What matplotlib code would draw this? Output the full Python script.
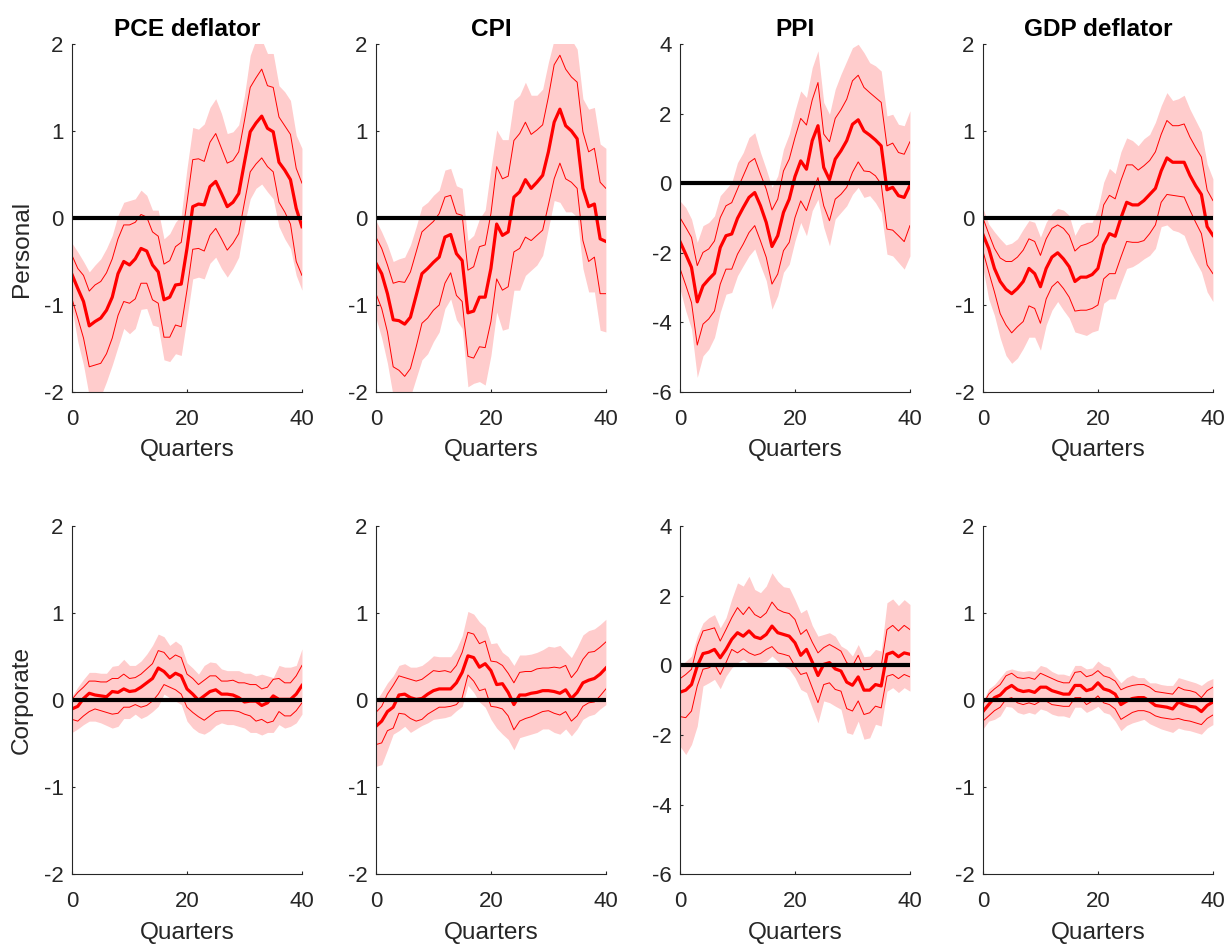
import numpy as np
import matplotlib
matplotlib.use("Agg")
import matplotlib.pyplot as plt

plt.rcParams['font.family'] = ['Liberation Sans', 'DejaVu Sans']
plt.rcParams['axes.unicode_minus'] = False

quarters = np.arange(41)
titles = ['PCE deflator', 'CPI', 'PPI', 'GDP deflator']
rows = ['Personal', 'Corporate']

# --- personal income tax shock ---
pce_p_med = [-0.65, -0.81, -0.96, -1.24, -1.19, -1.15, -1.06, -0.91, -0.64, -0.50,
             -0.54, -0.47, -0.35, -0.38, -0.54, -0.62, -0.94, -0.91, -0.77, -0.76,
             -0.35, 0.13, 0.16, 0.15, 0.36, 0.42, 0.28, 0.13, 0.18, 0.28,
             0.64, 0.99, 1.09, 1.17, 1.03, 0.99, 0.64, 0.55, 0.44, 0.11, -0.10]
pce_p_hi68 = [-0.43, -0.58, -0.66, -0.84, -0.77, -0.73, -0.63, -0.47, -0.24, -0.08,
              -0.08, -0.05, 0.04, 0.01, -0.16, -0.21, -0.53, -0.49, -0.33, -0.28,
              0.18, 0.67, 0.68, 0.65, 0.87, 0.97, 0.80, 0.63, 0.66, 0.76,
              1.12, 1.50, 1.61, 1.71, 1.52, 1.50, 1.16, 1.06, 0.96, 0.57, 0.40]
pce_p_lo68 = [-0.93, -1.15, -1.38, -1.71, -1.69, -1.67, -1.56, -1.38, -1.12, -0.96,
              -0.98, -0.93, -0.75, -0.75, -0.94, -0.98, -1.37, -1.37, -1.23, -1.25,
              -0.83, -0.36, -0.35, -0.38, -0.20, -0.12, -0.24, -0.37, -0.29, -0.18,
              0.18, 0.53, 0.62, 0.69, 0.59, 0.53, 0.18, 0.07, -0.07, -0.50, -0.66]
pce_p_hi90 = [-0.29, -0.39, -0.50, -0.62, -0.54, -0.47, -0.35, -0.20, 0.03, 0.18,
              0.20, 0.22, 0.32, 0.26, 0.09, 0.09, -0.24, -0.18, -0.05, 0.03,
              0.57, 1.04, 1.02, 1.08, 1.27, 1.37, 1.20, 0.97, 0.99, 1.07,
              1.41, 1.87, 2.05, 2.05, 1.89, 1.89, 1.52, 1.45, 1.35, 0.95, 0.80]
pce_p_lo90 = [-1.04, -1.42, -1.69, -2.05, -2.10, -2.05, -1.88, -1.69, -1.48, -1.27,
              -1.33, -1.27, -1.05, -1.04, -1.23, -1.25, -1.63, -1.65, -1.56, -1.58,
              -1.15, -0.70, -0.68, -0.70, -0.52, -0.45, -0.58, -0.68, -0.58, -0.45,
              -0.07, 0.22, 0.34, 0.39, 0.30, 0.22, -0.10, -0.24, -0.35, -0.66, -0.83]

cpi_p_med = [-0.52, -0.64, -0.87, -1.17, -1.18, -1.22, -1.14, -0.89, -0.64, -0.58,
             -0.51, -0.45, -0.22, -0.19, -0.41, -0.49, -1.09, -1.07, -0.91, -0.91,
             -0.58, -0.07, -0.20, -0.16, 0.24, 0.30, 0.44, 0.34, 0.41, 0.49,
             0.76, 1.10, 1.25, 1.06, 1.00, 0.91, 0.34, 0.13, 0.16, -0.24, -0.27]
cpi_p_hi68 = [-0.22, -0.35, -0.54, -0.75, -0.73, -0.74, -0.62, -0.39, -0.16, -0.10,
              -0.04, 0.05, 0.24, 0.26, 0.05, 0.03, -0.60, -0.56, -0.33, -0.31,
              0.05, 0.59, 0.45, 0.48, 0.89, 0.97, 1.10, 0.96, 1.01, 1.07,
              1.39, 1.76, 1.87, 1.71, 1.62, 1.56, 0.99, 0.76, 0.80, 0.41, 0.34]
cpi_p_lo68 = [-0.87, -1.04, -1.31, -1.71, -1.75, -1.82, -1.73, -1.48, -1.21, -1.15,
              -1.06, -1.00, -0.75, -0.63, -0.89, -0.96, -1.59, -1.61, -1.48, -1.49,
              -1.19, -0.70, -0.83, -0.79, -0.39, -0.35, -0.22, -0.26, -0.20, -0.14,
              0.15, 0.45, 0.63, 0.45, 0.41, 0.34, -0.26, -0.50, -0.45, -0.87, -0.87]
cpi_p_hi90 = [-0.03, -0.16, -0.31, -0.50, -0.47, -0.45, -0.31, -0.10, 0.13, 0.18,
              0.26, 0.32, 0.55, 0.57, 0.37, 0.34, -0.26, -0.20, -0.01, 0.09,
              0.57, 1.01, 0.90, 0.90, 1.35, 1.41, 1.56, 1.41, 1.41, 1.48,
              1.79, 2.05, 2.10, 2.10, 2.05, 1.94, 1.37, 1.25, 1.27, 0.85, 0.80]
cpi_p_lo90 = [-1.15, -1.38, -1.67, -2.05, -2.10, -2.10, -2.05, -1.84, -1.63, -1.56,
              -1.42, -1.31, -1.04, -0.93, -1.17, -1.27, -1.94, -1.90, -1.88, -1.92,
              -1.58, -1.08, -1.29, -1.27, -0.83, -0.83, -0.66, -0.60, -0.54, -0.43,
              -0.12, 0.20, 0.18, 0.07, 0.07, 0.01, -0.58, -0.85, -0.85, -1.29, -1.31]

ppi_p_med = [-1.68, -2.04, -2.42, -3.41, -2.95, -2.76, -2.59, -1.85, -1.51, -1.46,
             -1.01, -0.70, -0.41, -0.27, -0.65, -1.13, -1.82, -1.51, -0.84, -0.46,
             0.19, 0.64, 0.40, 1.22, 1.65, 0.45, 0.10, 0.69, 0.93, 1.22,
             1.69, 1.82, 1.50, 1.38, 1.24, 1.07, -0.19, -0.12, -0.36, -0.41, -0.06]
ppi_p_hi68 = [-0.99, -1.27, -1.56, -2.37, -1.99, -1.89, -1.66, -0.99, -0.65, -0.56,
              -0.17, 0.21, 0.59, 0.71, 0.26, -0.17, -0.77, -0.46, 0.35, 0.69,
              1.31, 1.86, 1.67, 2.39, 2.89, 1.41, 1.19, 1.86, 2.11, 2.41,
              2.94, 3.10, 2.75, 2.60, 2.46, 2.32, 1.07, 1.15, 0.88, 0.83, 1.19]
ppi_p_lo68 = [-2.45, -2.93, -3.43, -4.65, -4.05, -3.90, -3.67, -2.90, -2.47, -2.47,
              -2.04, -1.75, -1.42, -1.22, -1.66, -2.13, -2.90, -2.61, -1.94, -1.70,
              -0.99, -0.51, -0.79, -0.27, 0.16, -0.65, -1.08, -0.46, -0.32, -0.12,
              0.31, 0.61, 0.35, 0.33, 0.21, -0.03, -1.32, -1.35, -1.51, -1.68, -1.22]
ppi_p_hi90 = [-0.51, -0.70, -1.03, -1.70, -1.22, -1.13, -0.94, -0.36, -0.17, 0.02,
              0.59, 0.88, 1.31, 1.45, 0.88, 0.40, -0.12, 0.21, 0.98, 1.41,
              2.08, 2.65, 2.46, 3.32, 3.80, 2.32, 1.98, 2.70, 3.13, 3.51,
              3.89, 3.99, 3.75, 3.46, 3.37, 3.22, 1.93, 1.98, 1.69, 1.65, 2.08]
ppi_p_lo90 = [-3.04, -3.67, -4.19, -5.58, -4.96, -4.77, -4.43, -3.71, -3.19, -3.14,
              -2.66, -2.37, -2.09, -1.89, -2.37, -2.80, -3.62, -3.23, -2.56, -2.33,
              -1.66, -1.13, -1.51, -0.79, -0.46, -1.27, -1.80, -1.03, -0.84, -0.65,
              -0.32, -0.12, -0.41, -0.36, -0.56, -0.84, -2.04, -2.09, -2.28, -2.47, -2.09]

gdp_p_med = [-0.19, -0.35, -0.58, -0.73, -0.82, -0.87, -0.81, -0.73, -0.58, -0.64,
             -0.79, -0.58, -0.45, -0.40, -0.47, -0.56, -0.73, -0.68, -0.68, -0.65,
             -0.58, -0.31, -0.18, -0.21, 0.00, 0.18, 0.15, 0.15, 0.20, 0.27,
             0.34, 0.54, 0.69, 0.64, 0.64, 0.64, 0.49, 0.37, 0.27, -0.10, -0.20]
gdp_p_hi68 = [0.00, -0.18, -0.35, -0.46, -0.50, -0.50, -0.45, -0.37, -0.24, -0.27,
              -0.43, -0.24, -0.12, -0.08, -0.12, -0.20, -0.38, -0.32, -0.30, -0.27,
              -0.20, 0.15, 0.26, 0.22, 0.43, 0.61, 0.61, 0.55, 0.60, 0.66,
              0.76, 0.96, 1.12, 1.06, 1.06, 1.08, 0.93, 0.81, 0.70, 0.32, 0.20]
gdp_p_lo68 = [-0.38, -0.62, -0.85, -1.10, -1.23, -1.32, -1.25, -1.19, -1.01, -1.04,
              -1.21, -0.93, -0.79, -0.73, -0.81, -0.91, -1.07, -1.06, -1.06, -1.04,
              -1.00, -0.70, -0.64, -0.64, -0.45, -0.27, -0.28, -0.28, -0.26, -0.18,
              -0.08, 0.18, 0.27, 0.26, 0.25, 0.24, 0.09, -0.05, -0.18, -0.54, -0.64]
gdp_p_hi90 = [0.11, -0.07, -0.16, -0.24, -0.31, -0.29, -0.24, -0.13, -0.03, -0.05,
              -0.22, -0.05, 0.05, 0.11, 0.09, 0.03, -0.20, -0.08, -0.05, -0.05,
              0.11, 0.41, 0.57, 0.51, 0.76, 0.92, 0.89, 0.83, 0.91, 0.96,
              1.10, 1.29, 1.44, 1.35, 1.37, 1.41, 1.25, 1.12, 0.99, 0.62, 0.45]
gdp_p_lo90 = [-0.58, -0.93, -1.12, -1.38, -1.58, -1.67, -1.61, -1.50, -1.37, -1.37,
              -1.52, -1.23, -1.06, -0.96, -1.06, -1.15, -1.31, -1.33, -1.35, -1.31,
              -1.29, -0.98, -0.93, -0.93, -0.75, -0.58, -0.56, -0.52, -0.47, -0.43,
              -0.35, -0.10, -0.08, -0.14, -0.16, -0.20, -0.37, -0.50, -0.62, -0.85, -0.96]

# --- corporate income tax shock ---
pce_c_med = [-0.10, -0.07, 0.02, 0.08, 0.06, 0.05, 0.04, 0.10, 0.09, 0.13,
             0.10, 0.11, 0.15, 0.20, 0.25, 0.37, 0.33, 0.26, 0.31, 0.28,
             0.13, 0.07, 0.00, 0.05, 0.10, 0.12, 0.07, 0.07, 0.06, 0.03,
             -0.02, -0.01, -0.01, -0.06, -0.03, 0.05, 0.01, 0.01, 0.01, 0.07, 0.17]
pce_c_hi68 = [0.01, 0.09, 0.15, 0.22, 0.22, 0.21, 0.21, 0.25, 0.25, 0.30,
              0.25, 0.26, 0.30, 0.36, 0.42, 0.57, 0.55, 0.47, 0.52, 0.49,
              0.30, 0.25, 0.18, 0.23, 0.28, 0.28, 0.22, 0.22, 0.23, 0.20,
              0.20, 0.18, 0.18, 0.13, 0.15, 0.24, 0.25, 0.20, 0.20, 0.28, 0.40]
pce_c_lo68 = [-0.22, -0.24, -0.18, -0.13, -0.10, -0.12, -0.14, -0.16, -0.15, -0.08,
              -0.08, -0.05, -0.08, -0.06, -0.01, 0.07, 0.18, 0.15, 0.12, 0.07,
              -0.08, -0.14, -0.19, -0.23, -0.18, -0.13, -0.12, -0.12, -0.12, -0.13,
              -0.16, -0.18, -0.24, -0.22, -0.26, -0.24, -0.13, -0.18, -0.18, -0.12, -0.03]
pce_c_hi90 = [0.05, 0.15, 0.24, 0.32, 0.32, 0.31, 0.31, 0.39, 0.40, 0.47,
              0.40, 0.40, 0.45, 0.53, 0.63, 0.76, 0.73, 0.63, 0.68, 0.63,
              0.43, 0.37, 0.30, 0.40, 0.44, 0.43, 0.36, 0.34, 0.34, 0.34,
              0.31, 0.31, 0.28, 0.30, 0.28, 0.26, 0.40, 0.38, 0.38, 0.40, 0.59]
pce_c_lo90 = [-0.37, -0.33, -0.28, -0.24, -0.24, -0.26, -0.29, -0.32, -0.30, -0.21,
              -0.21, -0.16, -0.21, -0.18, -0.13, -0.07, 0.07, 0.03, -0.01, -0.05,
              -0.24, -0.32, -0.37, -0.39, -0.35, -0.29, -0.26, -0.28, -0.28, -0.30,
              -0.32, -0.37, -0.37, -0.40, -0.37, -0.37, -0.28, -0.32, -0.30, -0.26, -0.16]

cpi_c_med = [-0.30, -0.24, -0.13, -0.08, 0.06, 0.07, 0.03, 0.01, 0.02, 0.07,
             0.11, 0.13, 0.13, 0.13, 0.20, 0.32, 0.51, 0.49, 0.38, 0.42,
             0.34, 0.18, 0.19, 0.09, -0.05, 0.06, 0.06, 0.08, 0.09, 0.11,
             0.11, 0.10, 0.08, 0.12, 0.02, 0.09, 0.20, 0.23, 0.25, 0.30, 0.37]
cpi_c_hi68 = [-0.14, -0.07, 0.07, 0.17, 0.28, 0.26, 0.24, 0.22, 0.24, 0.29,
              0.34, 0.33, 0.34, 0.32, 0.40, 0.55, 0.78, 0.76, 0.65, 0.68,
              0.45, 0.44, 0.40, 0.31, 0.20, 0.32, 0.33, 0.33, 0.36, 0.37,
              0.37, 0.38, 0.37, 0.40, 0.26, 0.34, 0.47, 0.55, 0.56, 0.61, 0.67]
cpi_c_lo68 = [-0.51, -0.49, -0.35, -0.32, -0.15, -0.16, -0.21, -0.24, -0.22, -0.16,
              -0.12, -0.08, -0.08, -0.07, -0.05, 0.03, 0.29, 0.22, 0.11, 0.13,
              -0.07, -0.08, -0.10, -0.18, -0.34, -0.24, -0.21, -0.19, -0.16, -0.13,
              -0.12, -0.15, -0.17, -0.13, -0.24, -0.18, -0.07, -0.03, -0.02, 0.05, 0.13]
cpi_c_hi90 = [-0.01, 0.09, 0.20, 0.28, 0.40, 0.42, 0.38, 0.38, 0.40, 0.45,
              0.51, 0.50, 0.50, 0.50, 0.59, 0.74, 1.02, 0.99, 0.90, 0.84,
              0.65, 0.66, 0.55, 0.50, 0.40, 0.52, 0.52, 0.53, 0.55, 0.58,
              0.62, 0.61, 0.63, 0.56, 0.49, 0.61, 0.75, 0.80, 0.82, 0.87, 0.93]
cpi_c_lo90 = [-0.76, -0.74, -0.57, -0.39, -0.35, -0.30, -0.37, -0.33, -0.29, -0.26,
              -0.22, -0.21, -0.20, -0.18, -0.12, -0.07, 0.17, 0.09, -0.02, -0.08,
              -0.22, -0.32, -0.39, -0.45, -0.57, -0.43, -0.41, -0.39, -0.37, -0.33,
              -0.33, -0.37, -0.39, -0.33, -0.41, -0.33, -0.22, -0.18, -0.16, -0.10, -0.05]

ppi_c_med = [-0.77, -0.71, -0.55, -0.02, 0.34, 0.38, 0.46, 0.22, 0.46, 0.75,
             0.94, 0.84, 0.99, 0.82, 0.77, 0.89, 1.13, 0.94, 0.89, 0.84,
             0.65, 0.29, 0.46, 0.10, -0.29, 0.03, 0.08, -0.10, -0.16, -0.48,
             -0.57, -0.33, -0.71, -0.71, -0.55, -0.59, 0.32, 0.38, 0.25, 0.36, 0.32]
ppi_c_hi68 = [-0.38, -0.26, -0.11, 0.56, 0.99, 1.03, 1.08, 0.70, 1.03, 1.37,
              1.66, 1.46, 1.68, 1.46, 1.37, 1.51, 1.82, 1.61, 1.53, 1.49,
              1.32, 0.89, 1.03, 0.67, 0.36, 0.51, 0.60, 0.51, 0.41, 0.08,
              -0.02, 0.29, -0.13, -0.11, 0.03, -0.02, 1.03, 1.15, 0.99, 1.15, 1.03]
ppi_c_lo68 = [-1.47, -1.50, -1.31, -0.59, -0.11, -0.07, 0.03, -0.26, 0.08, 0.46,
              0.36, 0.48, 0.36, 0.29, 0.34, 0.46, 0.54, 0.36, 0.32, 0.27,
              -0.02, -0.26, -0.21, -0.64, -1.07, -0.55, -0.50, -0.69, -0.74, -1.24,
              -1.31, -1.02, -1.41, -1.36, -1.17, -1.22, -0.31, -0.26, -0.38, -0.26, -0.33]
ppi_c_hi90 = [-0.02, 0.12, 0.27, 0.84, 1.22, 1.37, 1.46, 1.08, 1.37, 1.91,
              2.37, 2.28, 2.56, 2.18, 2.09, 2.28, 2.66, 2.42, 2.26, 2.23,
              1.89, 1.51, 1.61, 1.15, 0.84, 0.89, 0.94, 0.84, 0.56, 0.46,
              0.27, 0.60, 0.25, 0.27, 0.46, 0.41, 1.80, 1.91, 1.72, 1.89, 1.75]
ppi_c_lo90 = [-2.32, -2.56, -2.27, -1.74, -0.59, -0.50, -0.40, -0.67, -0.31, -0.07,
              0.08, 0.17, 0.06, 0.08, 0.08, 0.12, 0.27, 0.12, -0.02, -0.11,
              -0.35, -0.69, -0.78, -1.22, -1.65, -1.02, -1.07, -1.17, -1.26, -1.93,
              -1.98, -1.60, -2.12, -2.08, -1.69, -1.74, -0.74, -0.64, -0.78, -0.64, -0.74]

gdp_c_med = [-0.13, -0.05, 0.03, 0.06, 0.13, 0.17, 0.12, 0.10, 0.11, 0.09,
             0.15, 0.15, 0.11, 0.09, 0.07, 0.07, 0.17, 0.17, 0.11, 0.13,
             0.20, 0.13, 0.11, 0.07, -0.05, -0.01, 0.02, 0.03, 0.03, -0.01,
             -0.06, -0.07, -0.08, -0.10, -0.02, -0.05, -0.07, -0.08, -0.13, -0.06, -0.02]
gdp_c_hi68 = [-0.05, 0.07, 0.13, 0.18, 0.28, 0.31, 0.26, 0.25, 0.26, 0.24,
              0.31, 0.28, 0.25, 0.22, 0.20, 0.20, 0.32, 0.33, 0.27, 0.29,
              0.34, 0.28, 0.26, 0.22, 0.12, 0.15, 0.17, 0.18, 0.18, 0.15,
              0.10, 0.09, 0.08, 0.07, 0.15, 0.12, 0.11, 0.09, 0.03, 0.11, 0.15]
gdp_c_lo68 = [-0.24, -0.18, -0.12, -0.08, 0.01, 0.03, -0.03, -0.05, -0.03, -0.05,
              -0.01, -0.01, -0.05, -0.06, -0.07, -0.07, 0.03, 0.03, -0.05, -0.01,
              0.05, -0.03, -0.05, -0.10, -0.22, -0.18, -0.14, -0.12, -0.12, -0.14,
              -0.18, -0.20, -0.21, -0.22, -0.21, -0.23, -0.24, -0.26, -0.28, -0.21, -0.17]
gdp_c_hi90 = [-0.01, 0.13, 0.18, 0.26, 0.34, 0.36, 0.34, 0.33, 0.34, 0.33,
              0.40, 0.38, 0.33, 0.30, 0.30, 0.28, 0.40, 0.40, 0.36, 0.37,
              0.45, 0.40, 0.38, 0.28, 0.20, 0.26, 0.29, 0.26, 0.26, 0.20,
              0.20, 0.18, 0.17, 0.17, 0.26, 0.24, 0.22, 0.20, 0.17, 0.22, 0.25]
gdp_c_lo90 = [-0.33, -0.24, -0.22, -0.18, -0.07, -0.08, -0.14, -0.16, -0.14, -0.16,
              -0.10, -0.12, -0.16, -0.18, -0.18, -0.20, -0.08, -0.08, -0.14, -0.11,
              -0.07, -0.14, -0.16, -0.24, -0.35, -0.29, -0.26, -0.24, -0.22, -0.27,
              -0.30, -0.33, -0.35, -0.37, -0.32, -0.34, -0.35, -0.37, -0.39, -0.32, -0.28]

panels = [
    [(pce_p_med, pce_p_lo68, pce_p_hi68, pce_p_lo90, pce_p_hi90),
     (cpi_p_med, cpi_p_lo68, cpi_p_hi68, cpi_p_lo90, cpi_p_hi90),
     (ppi_p_med, ppi_p_lo68, ppi_p_hi68, ppi_p_lo90, ppi_p_hi90),
     (gdp_p_med, gdp_p_lo68, gdp_p_hi68, gdp_p_lo90, gdp_p_hi90)],
    [(pce_c_med, pce_c_lo68, pce_c_hi68, pce_c_lo90, pce_c_hi90),
     (cpi_c_med, cpi_c_lo68, cpi_c_hi68, cpi_c_lo90, cpi_c_hi90),
     (ppi_c_med, ppi_c_lo68, ppi_c_hi68, ppi_c_lo90, ppi_c_hi90),
     (gdp_c_med, gdp_c_lo68, gdp_c_hi68, gdp_c_lo90, gdp_c_hi90)],
]

ylims = [(-2, 2), (-2, 2), (-6, 4), (-2, 2)]
yticks = [[-2, -1, 0, 1, 2], [-2, -1, 0, 1, 2], [-6, -4, -2, 0, 2, 4], [-2, -1, 0, 1, 2]]

fig = plt.figure(figsize=(12.31, 9.46), dpi=100)
lefts = [0.0585, 0.3054, 0.5524, 0.7985]
bottoms = [0.5856, 0.0758]
w, h = 0.1868, 0.3680
grey = '#262626'

for r in range(2):
    for c in range(4):
        ax = fig.add_axes([lefts[c], bottoms[r], w, h])
        med, lo68, hi68, lo90, hi90 = panels[r][c]
        ax.fill_between(quarters, lo90, hi90, color='#ffcccc', lw=0)
        ax.plot(quarters, hi68, color='r', lw=0.7)
        ax.plot(quarters, lo68, color='r', lw=0.7)
        ax.plot(quarters, med, color='r', lw=2.3)
        ax.axhline(0, color='k', lw=3)

        ax.set_xlim(0, 40)
        ax.set_ylim(*ylims[c])
        ax.set_xticks([0, 20, 40])
        ax.set_yticks(yticks[c])
        for s in ['top', 'right']:
            ax.spines[s].set_visible(False)
        for s in ['left', 'bottom']:
            ax.spines[s].set_color(grey)
            ax.spines[s].set_linewidth(0.8)
        ax.tick_params(direction='in', length=2.5, width=0.8, colors=grey,
                       labelsize=16)
        ax.tick_params(axis='x', pad=12)
        ax.tick_params(axis='y', pad=6)
        ax.set_xlabel('Quarters', fontsize=17.6, color=grey, labelpad=7)
        if r == 0:
            ax.set_title(titles[c], fontsize=17.6, fontweight='bold', pad=6)
        if c == 0:
            ax.set_ylabel(rows[r], fontsize=17.6, color=grey)
            ax.yaxis.set_label_coords(-0.17, 0.41 if r == 0 else 0.5)

fig.savefig('out.png', dpi=100)
